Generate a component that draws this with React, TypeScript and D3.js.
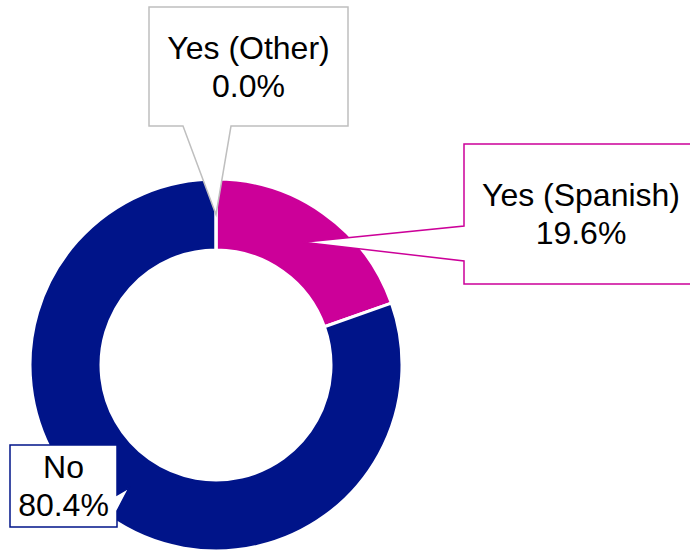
import React from "react";
import * as d3 from "d3";

const categories = ["Yes (Spanish)", "No", "Yes (Other)"];
const values = [19.6, 80.4, 0.0];
const labels = ["19.6%", "80.4%", "0.0%"];
const colors = ["#CC0099", "#001489", "#BFBFBF"];

const W = 690;
const H = 555;
const cx = 216;
const cy = 365;
const rOuter = 186;
const rInner = 115;

type Box = { x0: number; y0: number; x1: number; y1: number; side: "bottom" | "left" | "right"; b0: number; b1: number };

const boxes: Box[] = [
  { x0: 464, y0: 144, x1: 698, y1: 284, side: "left", b0: 226, b1: 261 },
  { x0: 10, y0: 445, x1: 117, y1: 527, side: "right", b0: 495, b1: 511 },
  { x0: 149, y0: 7, x1: 348, y1: 126, side: "bottom", b0: 183, b1: 231 },
];

function calloutPath(b: Box, tip: [number, number]) {
  const { x0, y0, x1, y1, side, b0, b1 } = b;
  const p = d3.path();
  p.moveTo(x0, y0);
  p.lineTo(x1, y0);
  if (side === "right") {
    p.lineTo(x1, b0);
    p.lineTo(tip[0], tip[1]);
    p.lineTo(x1, b1);
  }
  p.lineTo(x1, y1);
  if (side === "bottom") {
    p.lineTo(b1, y1);
    p.lineTo(tip[0], tip[1]);
    p.lineTo(b0, y1);
  }
  p.lineTo(x0, y1);
  if (side === "left") {
    p.lineTo(x0, b1);
    p.lineTo(tip[0], tip[1]);
    p.lineTo(x0, b0);
  }
  p.closePath();
  return p.toString();
}

export default function App() {
  const pie = d3.pie<number>().sort(null).value((d) => d);
  const arcs = pie(values);
  const arc = d3.arc<d3.PieArcDatum<number>>().innerRadius(rInner).outerRadius(rOuter);
  const midArc = d3
    .arc<d3.PieArcDatum<number>>()
    .innerRadius((rInner + rOuter) / 2 - 35)
    .outerRadius((rInner + rOuter) / 2 + 35);

  return (
    <div style={{ position: "absolute", left: 0, top: 0 }}>
      <svg width={W} height={H} style={{ display: "block", fontFamily: "'Liberation Sans', Arial, sans-serif" }}>
        <rect width={W} height={H} fill="#fff" />
        <g transform={`translate(${cx},${cy})`}>
          {arcs.map((a, i) => (
            <path key={i} d={arc(a) || ""} fill={colors[i]} stroke="#fff" strokeWidth={3} />
          ))}
        </g>
        {arcs.map((a, i) => {
          const c = midArc.centroid(a);
          const tip: [number, number] = [cx + c[0], cy + c[1]];
          const b = boxes[i];
          const mx = (b.x0 + Math.min(b.x1, 698)) / 2;
          const my = (b.y0 + b.y1) / 2;
          return (
            <g key={"c" + i}>
              <path d={calloutPath(b, tip)} fill="#fff" stroke={colors[i]} strokeWidth={1.5} />
              <text x={mx} y={my - 8} textAnchor="middle" fontSize={32} fill="#000">
                {i === 1 ? "No" : categories[i]}
              </text>
              <text x={mx} y={my + 30} textAnchor="middle" fontSize={32} fill="#000">
                {labels[i]}
              </text>
            </g>
          );
        })}
      </svg>
    </div>
  );
}
